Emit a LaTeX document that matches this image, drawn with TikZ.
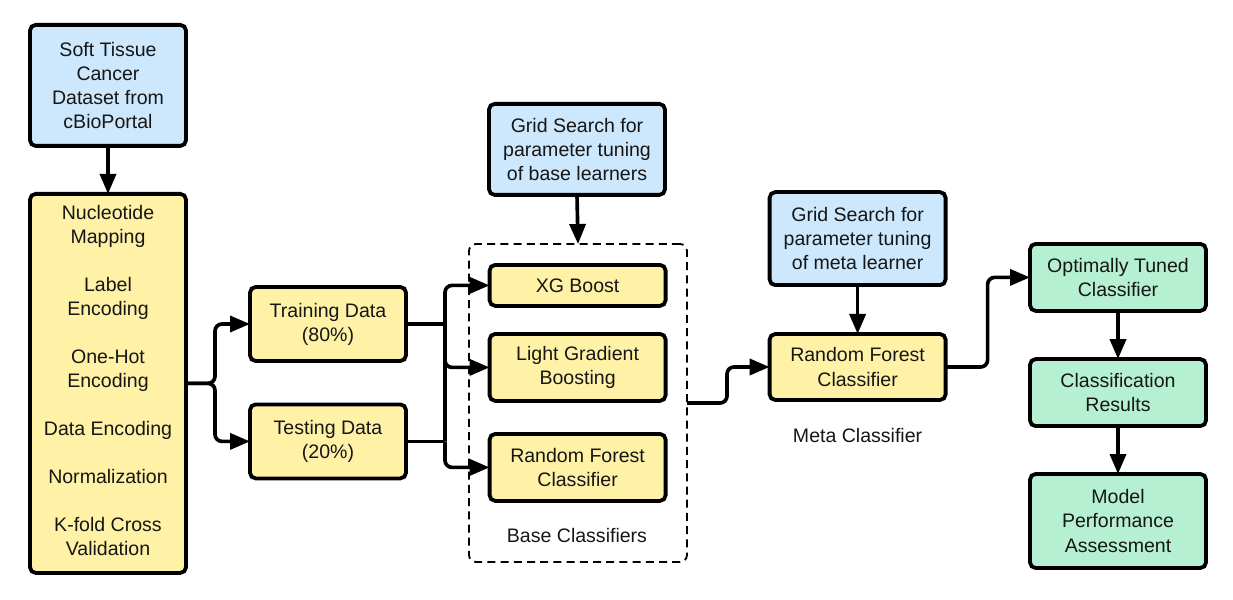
\documentclass[tikz,border=0pt]{standalone}
\usepackage{fontspec}
\setmainfont{Liberation Sans}
\usetikzlibrary{arrows.meta}
\definecolor{dgInk}{HTML}{161616}
\definecolor{dgBlue}{HTML}{CDE7FC}
\definecolor{dgYellow}{HTML}{FFF1A6}
\definecolor{dgGreen}{HTML}{B6F0D2}

\begin{document}
\begin{tikzpicture}[
  x=1cm,y=1cm,
  font=\fontsize{13.9}{17.1}\selectfont,
  every node/.style={
    text=dgInk,align=center,outer sep=0pt
  },
  box/.style={
    rounded corners=4pt,
    line width=2.7pt,
    draw=black,
    inner sep=3pt
  },
  srcbox/.style={
    box,
    fill=dgBlue
  },
  stepbox/.style={
    box,
    fill=dgYellow
  },
  outbox/.style={
    box,
    fill=dgGreen
  },
  flow/.style={
    -{Triangle[length=5mm,width=4mm]},
    draw=black,
    line width=2.6pt,
    rounded corners=5pt
  },
  wire/.style={
    draw=black,
    line width=2.6pt
  },
  group/.style={
    draw=black,
    line width=1.3pt,
    dash pattern=on 2mm off 1.3mm,
    rounded corners=5pt,
    minimum width=5.45cm,
    minimum height=7.95cm
  }
]
\path[use as bounding box] (0,0) rectangle (30.825,14.975);

% Data source and preprocessing
\node[srcbox,minimum width=3.9cm,minimum height=3.025cm] (src) at (2.70,12.84)
  {Soft Tissue\\Cancer\\Dataset from\\cBioPortal};

\node[stepbox,minimum width=3.9cm,minimum height=9.475cm] (prep) at (2.70,5.39)
  {Nucleotide\\Mapping\\[\baselineskip]
   Label\\Encoding\\[\baselineskip]
   One-Hot\\Encoding\\[\baselineskip]
   Data Encoding\\[\baselineskip]
   Normalization\\[\baselineskip]
   K-fold Cross\\Validation\\[-13pt]};

% Train / test split
\node[stepbox,minimum width=3.9cm,minimum height=1.85cm] (train) at (8.20,6.875)
  {Training Data\\(80\%)};

\node[stepbox,minimum width=3.9cm,minimum height=1.85cm] (test) at (8.20,3.94)
  {Testing Data\\(20\%)};

% Base learners
\node[srcbox,minimum width=4.4cm,minimum height=2.275cm] (gridA) at (14.425,11.24)
  {Grid Search for\\parameter tuning\\of base learners};

\node[group] (base) at (14.45,4.90) {};

\node[stepbox,minimum width=4.4cm,minimum height=1.025cm] (xgb) at (14.44,7.84)
  {XG Boost};

\node[stepbox,minimum width=4.4cm,minimum height=1.675cm] (lgb) at (14.44,5.79)
  {Light Gradient\\Boosting};

\node[stepbox,minimum width=4.4cm,minimum height=1.675cm] (rfb) at (14.44,3.29)
  {Random Forest\\Classifier};

\node (baselbl) at (14.425,1.575) {Base Classifiers};

% Meta learner
\node[srcbox,minimum width=4.4cm,minimum height=2.325cm] (gridM) at (21.44,9.01)
  {Grid Search for\\parameter tuning\\of meta learner};

\node[stepbox,minimum width=4.4cm,minimum height=1.65cm] (rfm) at (21.44,5.80)
  {Random Forest\\Classifier};

\node (metalbl) at (21.44,4.075) {Meta Classifier};

% Results
\node[outbox,minimum width=4.4cm,minimum height=1.675cm] (opt) at (27.95,8.04)
  {Optimally Tuned\\Classifier};

\node[outbox,minimum width=4.4cm,minimum height=1.675cm] (cls) at (27.95,5.16)
  {Classification\\Results};

\node[outbox,minimum width=4.4cm,minimum height=2.35cm] (perf) at (27.95,1.95)
  {Model\\Performance\\Assessment};

% Vertical flow
\draw[flow] (src.south) -- (prep.north);
\draw[flow] (gridA.south) -- (base.north);
\draw[flow] (gridM.south) -- (rfm.north);
\draw[flow] (opt.south) -- (cls.north);
\draw[flow] (cls.south) -- (perf.north);

% Split
\draw[flow] (prep.east) -- ++(0.725,0) |- (train.west);
\draw[flow] (prep.east) -- ++(0.725,0) |- (test.west);

% Into the base learners
\draw[wire] (train.east) -- ++(0.975,0) coordinate (jt);
\draw[wire] (test.east) -- ++(0.975,0) coordinate (js);
\draw[wire] (jt) -- (js);
\draw[flow] (jt) |- (xgb.west);
\draw[flow] (jt) |- (lgb.west);
\draw[flow] (js) |- (rfb.west);

% Stacking
\draw[flow] (base.east) -- ++(1.0,0) |- (rfm.west);
\draw[flow] (rfm.east) -- ++(1.05,0) |- (opt.west);

\end{tikzpicture}
\end{document}
